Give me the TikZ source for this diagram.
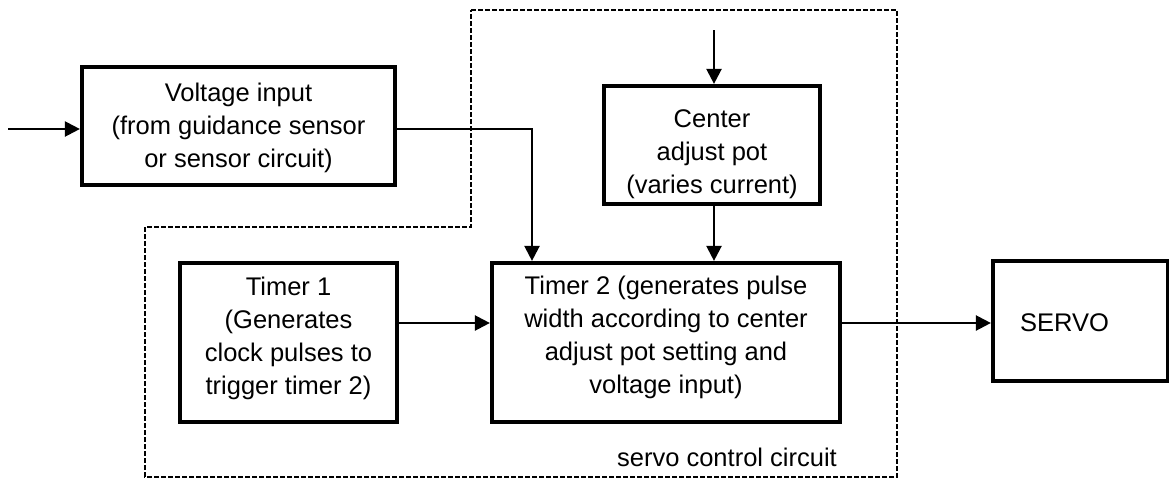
\documentclass[tikz,border=0pt]{standalone}
\usepackage{fontspec}
\setmainfont{Liberation Sans}
\usetikzlibrary{arrows.meta}
\begin{document}
\begin{tikzpicture}[x=1pt,y=-1pt,
  blk/.style={draw,line width=4.2pt,rectangle,inner sep=0pt},
  txt/.style={align=center,font=\fontsize{25.5}{33}\selectfont,inner sep=0pt},
  flow/.style={line width=2.3pt,-{Triangle[length=15pt,width=15pt]}},
  region/.style={line width=2.2pt,dash pattern=on 5pt off 2pt}]
\useasboundingbox (0,0) rectangle (1169,480);

% servo control circuit outline
\draw[region] (471,10) -- (897,10) -- (897,477) -- (145,477) -- (145,227) -- (471,227) -- cycle;
\node[txt,anchor=east] (lbl) at (837,457) {servo control circuit};

% blocks
\node[blk,minimum width=313pt,minimum height=118pt] (volt) at (238.5,126) {};
\node[txt] (volttxt) at (238.5,128) {Voltage input\\(from guidance sensor\\or sensor circuit)};

\node[blk,minimum width=216pt,minimum height=118pt] (pot) at (712,145) {};
\node[txt] (pottxt) at (712,154) {Center\\adjust pot\\(varies current)};

\node[blk,minimum width=217pt,minimum height=159pt] (t1) at (288.5,342.5) {};
\node[txt] (t1txt) at (288.5,338) {Timer 1\\(Generates\\clock pulses to\\trigger timer 2)};

\node[blk,minimum width=348pt,minimum height=159pt] (t2) at (666,342.5) {};
\node[txt] (t2txt) at (666,337) {Timer 2 (generates pulse\\width according to center\\adjust pot setting and\\voltage input)};

\node[blk,minimum width=175pt,minimum height=120pt] (servo) at (1080.5,321) {};
\node[txt,anchor=west] (servotxt) at (1020,323) {SERVO};

% free ends of the incoming connectors
\coordinate (vin) at (8,129);
\coordinate (potin) at (714,30);

% connectors
\draw[flow] (vin) -- (volt.west |- vin);
\draw[flow] (potin) -- (pot.north -| potin);
\draw[flow] (volt.east |- 0,129) -| (t2.north -| 532,0);
\draw[flow] (pot.south -| 714,0) -- (t2.north -| 714,0);
\draw[flow] (t1.east |- 0,323) -- (t2.west |- 0,323);
\draw[flow] (t2.east |- 0,323) -- (servo.west |- 0,323);
\end{tikzpicture}
\end{document}
